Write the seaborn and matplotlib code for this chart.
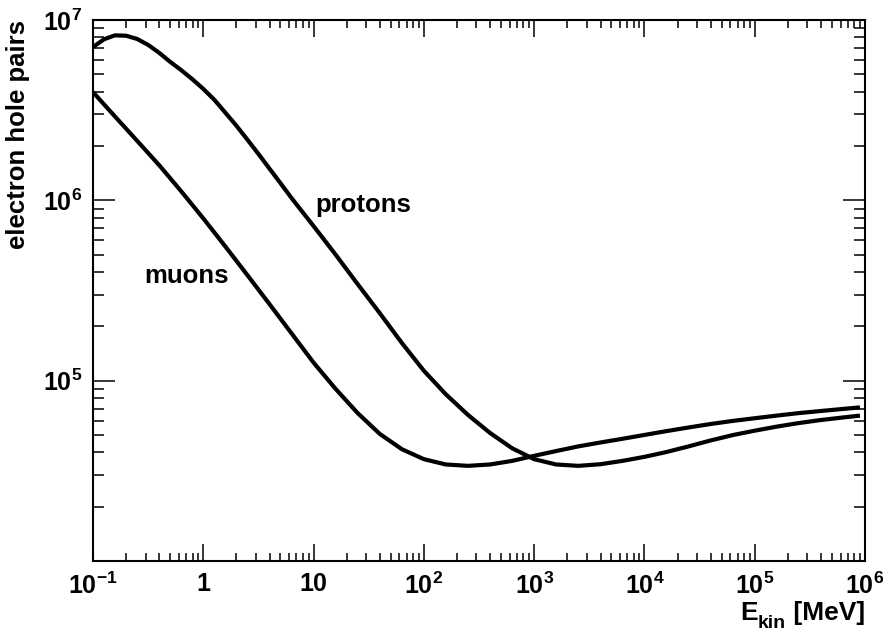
import matplotlib
matplotlib.use("Agg")
import matplotlib.pyplot as plt
import numpy as np
import pandas as pd
import seaborn as sns
from matplotlib.ticker import FixedLocator, FixedFormatter, LogLocator, NullFormatter

# Kinetic energy [MeV] and number of electron-hole pairs for each particle
e_proton = [0.100, 0.126, 0.158, 0.200, 0.251, 0.316, 0.398, 0.501, 0.631,
            0.794, 1.00, 1.26, 1.58, 2.00, 2.51, 3.16, 3.98, 5.01, 6.31, 7.94,
            10.0, 15.8, 25.1, 39.8, 63.1, 100, 158, 251, 398, 631, 1000, 1580,
            2510, 3980, 6310, 1.00e4, 1.58e4, 2.51e4, 3.98e4, 6.31e4, 1.00e5,
            1.58e5, 2.51e5, 3.98e5, 6.31e5, 9.00e5]
n_proton = [7.08e6, 7.82e6, 8.22e6, 8.18e6, 7.85e6, 7.28e6, 6.58e6, 5.86e6,
            5.27e6, 4.70e6, 4.15e6, 3.61e6, 3.07e6, 2.59e6, 2.17e6, 1.81e6,
            1.50e6, 1.245e6, 1.03e6, 8.61e5, 7.20e5, 5.01e5, 3.43e5, 2.37e5,
            1.62e5, 1.135e5, 8.41e4, 6.46e4, 5.13e4, 4.22e4, 3.67e4, 3.43e4,
            3.37e4, 3.44e4, 3.59e4, 3.78e4, 4.02e4, 4.32e4, 4.66e4, 4.99e4,
            5.28e4, 5.56e4, 5.82e4, 6.05e4, 6.25e4, 6.40e4]

e_muon = [0.100, 0.158, 0.251, 0.398, 0.631, 1.00, 1.58, 2.51, 3.98, 6.31,
          10.0, 15.8, 25.1, 39.8, 63.1, 100, 158, 251, 398, 631, 1000, 1580,
          2510, 3980, 6310, 1.00e4, 1.58e4, 2.51e4, 3.98e4, 6.31e4, 1.00e5,
          1.58e5, 2.51e5, 3.98e5, 6.31e5, 9.00e5]
n_muon = [3.98e6, 2.92e6, 2.14e6, 1.567e6, 1.122e6, 7.94e5, 5.56e5, 3.85e5,
          2.66e5, 1.83e5, 1.259e5, 9.02e4, 6.61e4, 5.07e4, 4.17e4, 3.67e4,
          3.43e4, 3.37e4, 3.43e4, 3.59e4, 3.83e4, 4.07e4, 4.32e4, 4.54e4,
          4.76e4, 5.00e4, 5.25e4, 5.50e4, 5.75e4, 5.98e4, 6.19e4, 6.40e4,
          6.61e4, 6.79e4, 6.97e4, 7.11e4]

x_ticks = [1e-1, 1, 10, 1e2, 1e3, 1e4, 1e5, 1e6]
x_tick_labels = [r"$10^{-1}$", "1", "10", r"$10^{2}$", r"$10^{3}$",
                 r"$10^{4}$", r"$10^{5}$", r"$10^{6}$"]
y_ticks = [1e5, 1e6, 1e7]
y_tick_labels = [r"$10^{5}$", r"$10^{6}$", r"$10^{7}$"]

sns.set_style("white")
plt.rcParams["font.family"] = ["Liberation Sans", "DejaVu Sans"]
plt.rcParams["font.weight"] = "bold"
plt.rcParams["mathtext.fontset"] = "custom"
plt.rcParams["mathtext.rm"] = "Liberation Sans:bold"
plt.rcParams["mathtext.it"] = "Liberation Sans:bold"
plt.rcParams["mathtext.bf"] = "Liberation Sans:bold"
for key in ("text.color", "axes.labelcolor", "xtick.color", "ytick.color",
            "axes.edgecolor"):
    plt.rcParams[key] = "black"

df = pd.concat([
    pd.DataFrame({"E": e_proton, "N": n_proton, "particle": "protons"}),
    pd.DataFrame({"E": e_muon, "N": n_muon, "particle": "muons"}),
])

W, H = 890, 633
fig = plt.figure(figsize=(W / 100, H / 100), dpi=100)
ax = fig.add_axes([93 / W, 1 - 561 / H, 772 / W, 541 / H])

sns.lineplot(data=df, x="E", y="N", units="particle", estimator=None,
             sort=False, color="black", lw=3.0, ax=ax, legend=False,
             solid_joinstyle="round", solid_capstyle="butt")

ax.set_xscale("log")
ax.set_yscale("log")
ax.set_xlim(1e-1, 1e6)
ax.set_ylim(1e4, 1e7)
ax.set_xlabel("")
ax.set_ylabel("")

for sp in ax.spines.values():
    sp.set_linewidth(1.5)
    sp.set_color("black")

ax.xaxis.set_major_locator(FixedLocator(x_ticks))
ax.xaxis.set_major_formatter(FixedFormatter(x_tick_labels))
ax.xaxis.set_minor_locator(LogLocator(base=10, subs=np.arange(2, 10), numticks=20))
ax.xaxis.set_minor_formatter(NullFormatter())
ax.yaxis.set_major_locator(FixedLocator(y_ticks))
ax.yaxis.set_major_formatter(FixedFormatter(y_tick_labels))
ax.yaxis.set_minor_locator(LogLocator(base=10, subs=np.arange(2, 10), numticks=20))
ax.yaxis.set_minor_formatter(NullFormatter())

ax.tick_params(axis="x", which="major", direction="in", length=12, width=1.1,
               top=True, bottom=True, labelsize=18, pad=8, colors="black")
ax.tick_params(axis="x", which="minor", direction="in", length=6, width=1.1,
               top=True, bottom=True, colors="black")
ax.tick_params(axis="y", which="major", direction="in", length=16, width=1.1,
               left=True, right=True, labelsize=18, pad=8, colors="black")
ax.tick_params(axis="y", which="minor", direction="in", length=8, width=1.1,
               left=True, right=True, colors="black")
for lab in ax.get_yticklabels():
    lab.set_verticalalignment("center_baseline")

# y-axis title, right-aligned with the top of the frame
fig.text(25 / W, 1 - 20 / H, "electron hole pairs", rotation=90,
         rotation_mode="anchor", ha="right", va="baseline",
         fontsize=18.5, fontweight="bold", color="black")

# x-axis title "E_kin [MeV]", right-aligned with the end of the axis
renderer = fig.canvas.get_renderer()
to_fig = fig.transFigure.inverted()
t_unit = fig.text(865 / W, 13 / H, " [MeV]", ha="right", va="baseline",
                  fontsize=19, fontweight="bold", color="black")
x0 = to_fig.transform(t_unit.get_window_extent(renderer))[0][0]
t_sub = fig.text(x0, 5 / H, "kin", ha="right", va="baseline",
                 fontsize=14, fontweight="bold", color="black")
x0 = to_fig.transform(t_sub.get_window_extent(renderer))[0][0]
fig.text(x0, 13 / H, "E", ha="right", va="baseline",
         fontsize=19, fontweight="bold", color="black")

ax.text(10.3, 8.6e5, "protons", fontsize=18.5, fontweight="bold",
        ha="left", va="baseline", color="black")
ax.text(0.29, 3.46e5, "muons", fontsize=18.5, fontweight="bold",
        ha="left", va="baseline", color="black")

fig.savefig("out.png", dpi=100)
